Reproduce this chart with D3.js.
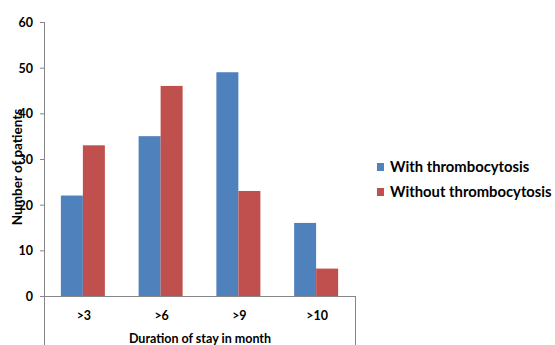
<!DOCTYPE html>
<html>
<head>
<meta charset="utf-8">
<script src="https://cdn.jsdelivr.net/npm/d3@7/dist/d3.min.js"></script>
<style>
  html, body { margin: 0; padding: 0; background: #fff; }
  svg text { font-family: Lato, "Open Sans", sans-serif; font-weight: bold; fill: #000; }
</style>
</head>
<body>
<svg id="chart" width="555" height="345"></svg>
<script>
// Patients by duration of stay
const categories = [">3", ">6", ">9", ">10"];
const seriesNames = ["With thrombocytosis", "Without thrombocytosis"];
const withThrombocytosis = [22, 35, 49, 16];
const withoutThrombocytosis = [33, 46, 23, 6];
const yTicks = [0, 10, 20, 30, 40, 50, 60];
const colors = ["#4F81BD", "#C0504D"];

const svg = d3.select("#chart");
const plotLeft = 44, plotRight = 355, plotTop = 22, plotBottom = 296;

const x = d3.scaleBand().domain(categories).range([plotLeft, plotRight]).paddingInner(0).paddingOuter(0);
const xSub = d3.scaleBand().domain(seriesNames).range([0, 44]);
const y = d3.scaleLinear().domain([0, 60]).range([plotBottom, plotTop]);

const rows = categories.map((c, i) => ({ cat: c, vals: [withThrombocytosis[i], withoutThrombocytosis[i]] }));

// Bars
const groups = svg.append("g").selectAll("g").data(rows).join("g")
  .attr("transform", d => `translate(${x(d.cat) + x.bandwidth() / 2 - 22},0)`);
groups.selectAll("rect").data(d => d.vals.map((v, k) => ({ v, k })))
  .join("rect")
  .attr("x", d => xSub(seriesNames[d.k]))
  .attr("width", xSub.bandwidth())
  .attr("y", d => y(d.v))
  .attr("height", d => y(0) - y(d.v))
  .attr("fill", d => colors[d.k]);

// Y axis
const yAxis = svg.append("g").attr("transform", `translate(${plotLeft},0)`)
  .call(d3.axisLeft(y).tickValues(yTicks).tickSize(4).tickPadding(7));
yAxis.select(".domain").remove();
yAxis.selectAll(".tick line").attr("stroke", "#868686");
yAxis.selectAll(".tick text").attr("font-size", 12.5).attr("dy", "0.35em");

// Axis lines and category table frame
const frame = svg.append("g").attr("stroke", "#868686").attr("stroke-width", 1).attr("fill", "none");
frame.append("line").attr("x1", plotLeft + 0.5).attr("x2", plotLeft + 0.5).attr("y1", plotTop).attr("y2", 345);
frame.append("line").attr("x1", plotLeft).attr("x2", plotRight + 0.5).attr("y1", plotBottom + 0.5).attr("y2", plotBottom + 0.5);
frame.append("line").attr("x1", plotRight + 0.5).attr("x2", plotRight + 0.5).attr("y1", plotBottom).attr("y2", 345);

// Category labels
svg.append("g").selectAll("text").data(categories).join("text")
  .attr("x", d => x(d) + x.bandwidth() / 2 + 1)
  .attr("y", 320)
  .attr("text-anchor", "middle")
  .attr("font-size", 12.5)
  .text(d => d);

// Axis titles
svg.append("text").attr("x", 200).attr("y", 343).attr("text-anchor", "middle")
  .attr("font-size", 12.5).text("Duration of stay in month");
svg.append("text").attr("transform", "translate(22,167) rotate(-90)")
  .attr("text-anchor", "middle").attr("font-size", 13.5).text("Number of patients");

// Legend
const legend = svg.append("g").selectAll("g").data(seriesNames).join("g")
  .attr("transform", (d, i) => `translate(377,${163 + i * 25})`);
legend.append("rect").attr("width", 7).attr("height", 8).attr("fill", (d, i) => colors[i]);
legend.append("text").attr("x", 13).attr("y", 9).attr("font-size", 14.8).text(d => d);
</script>
</body>
</html>
